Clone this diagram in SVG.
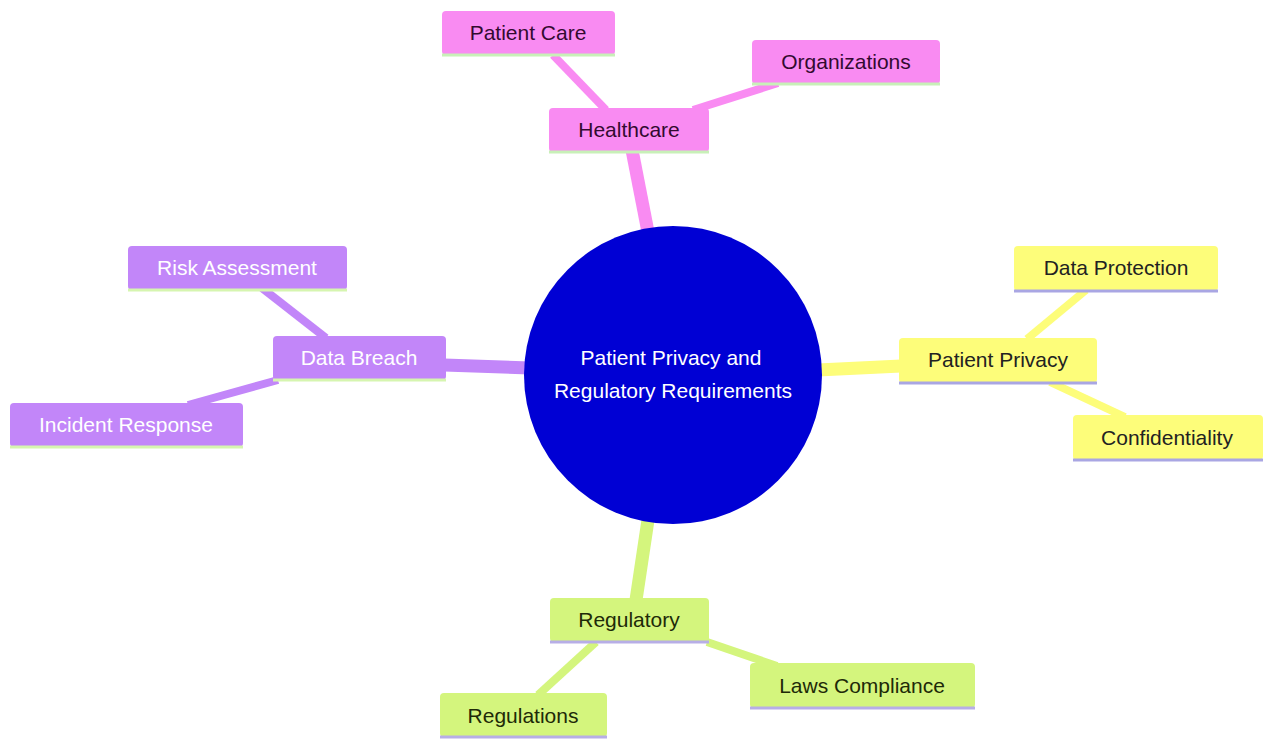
<svg xmlns="http://www.w3.org/2000/svg" width="1264" height="740" viewBox="0 0 1264 740">
<style>
text{font-family:"Liberation Sans",Arial,sans-serif;font-size:21px;text-anchor:middle}
.e1{stroke-width:13;fill:none}
.e2{stroke-width:8;fill:none}
.pk{fill:#f98bf2}
.pu{fill:#c286f9}
.ye{fill:#fdfd7a}
.gr{fill:#d4f57d}
.lpk{stroke:#c8f0b8;stroke-width:3}
.lpu{stroke:#d6f5b0;stroke-width:3}
.lye{stroke:#a9a6e3;stroke-width:3}
.lgr{stroke:#b7aee6;stroke-width:3}
.tpk{fill:#330a30}
.tpu{fill:#ffffff}
.tye{fill:#222222}
.tgr{fill:#1e2a08}
</style>
<rect width="1264" height="740" fill="#ffffff"/>
<g id="connectors">
<line class="e1" stroke="#f98bf2" x1="648" y1="232" x2="632" y2="150"/>
<line class="e2" stroke="#f98bf2" x1="606" y1="110" x2="553" y2="55"/>
<line class="e2" stroke="#f98bf2" x1="693" y1="110" x2="778" y2="83"/>
<line class="e1" stroke="#c286f9" x1="530" y1="368" x2="444" y2="365"/>
<line class="e2" stroke="#c286f9" x1="326" y1="338" x2="262" y2="288"/>
<line class="e2" stroke="#c286f9" x1="278" y1="380" x2="188" y2="405"/>
<line class="e1" stroke="#fdfd7a" x1="818" y1="370" x2="901" y2="366"/>
<line class="e2" stroke="#fdfd7a" x1="1027" y1="339" x2="1086" y2="290"/>
<line class="e2" stroke="#fdfd7a" x1="1050" y1="382" x2="1125" y2="417"/>
<line class="e1" stroke="#d4f57d" x1="648" y1="520" x2="636" y2="600"/>
<line class="e2" stroke="#d4f57d" x1="596" y1="642" x2="538" y2="695"/>
<line class="e2" stroke="#d4f57d" x1="707" y1="642" x2="777" y2="666"/>
</g>
<g id="root">
<circle cx="673" cy="375" r="149" fill="#0000d4"/>
<text x="671" y="365" fill="#ffffff">Patient Privacy and</text>
<text x="673" y="398" fill="#ffffff">Regulatory Requirements</text>
</g>
<g id="healthcare">
<rect class="pk" x="549" y="108" width="160" height="44" rx="4"/>
<line class="lpk" x1="549" y1="152" x2="709" y2="152"/>
<text class="tpk" x="629" y="137">Healthcare</text>
</g>
<g id="patient-care">
<rect class="pk" x="442" y="11" width="173" height="44" rx="4"/>
<line class="lpk" x1="442" y1="55" x2="615" y2="55"/>
<text class="tpk" x="528" y="40">Patient Care</text>
</g>
<g id="organizations">
<rect class="pk" x="752" y="40" width="188" height="44" rx="4"/>
<line class="lpk" x1="752" y1="84" x2="940" y2="84"/>
<text class="tpk" x="846" y="69">Organizations</text>
</g>
<g id="data-breach">
<rect class="pu" x="273" y="336" width="173" height="44" rx="4"/>
<line class="lpu" x1="273" y1="380" x2="446" y2="380"/>
<text class="tpu" x="359" y="365">Data Breach</text>
</g>
<g id="risk-assessment">
<rect class="pu" x="128" y="246" width="219" height="44" rx="4"/>
<line class="lpu" x1="128" y1="290" x2="347" y2="290"/>
<text class="tpu" x="237" y="275">Risk Assessment</text>
</g>
<g id="incident-response">
<rect class="pu" x="10" y="403" width="233" height="44" rx="4"/>
<line class="lpu" x1="10" y1="447" x2="243" y2="447"/>
<text class="tpu" x="126" y="432">Incident Response</text>
</g>
<g id="patient-privacy">
<rect class="ye" x="899" y="338" width="198" height="45" rx="4"/>
<line class="lye" x1="899" y1="383" x2="1097" y2="383"/>
<text class="tye" x="998" y="367">Patient Privacy</text>
</g>
<g id="data-protection">
<rect class="ye" x="1014" y="246" width="204" height="45" rx="4"/>
<line class="lye" x1="1014" y1="291" x2="1218" y2="291"/>
<text class="tye" x="1116" y="275">Data Protection</text>
</g>
<g id="confidentiality">
<rect class="ye" x="1073" y="415" width="190" height="45" rx="4"/>
<line class="lye" x1="1073" y1="460" x2="1263" y2="460"/>
<text class="tye" x="1167" y="445">Confidentiality</text>
</g>
<g id="regulatory">
<rect class="gr" x="550" y="598" width="159" height="44" rx="4"/>
<line class="lgr" x1="550" y1="642" x2="709" y2="642"/>
<text class="tgr" x="629" y="627">Regulatory</text>
</g>
<g id="laws-compliance">
<rect class="gr" x="750" y="663" width="225" height="45" rx="4"/>
<line class="lgr" x1="750" y1="708" x2="975" y2="708"/>
<text class="tgr" x="862" y="693">Laws Compliance</text>
</g>
<g id="regulations">
<rect class="gr" x="440" y="693" width="167" height="44" rx="4"/>
<line class="lgr" x1="440" y1="737" x2="607" y2="737"/>
<text class="tgr" x="523" y="723">Regulations</text>
</g>
</svg>
